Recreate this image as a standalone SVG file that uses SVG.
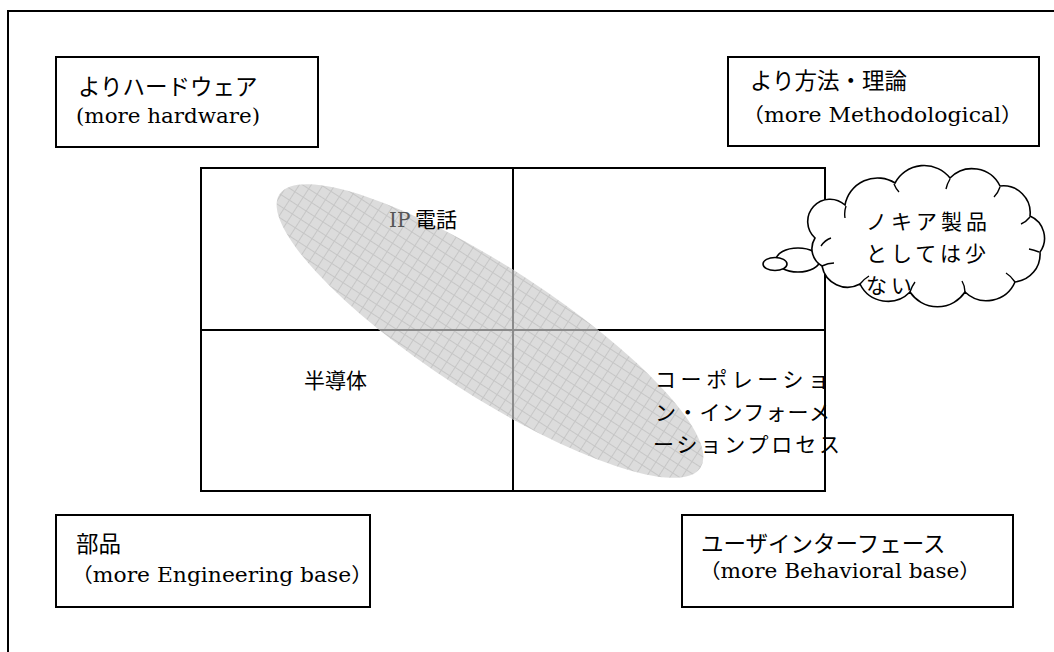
<svg xmlns="http://www.w3.org/2000/svg" width="1054" height="652" viewBox="0 0 1054 652">
<style>
.box{fill:#fff;stroke:#000;stroke-width:2}
.jp{font-family:"Noto Sans CJK JP","Noto Sans",sans-serif;font-size:22.5px;fill:#000}
.jq{font-family:"Noto Sans CJK JP","Noto Sans",sans-serif;font-size:21px;fill:#000}
.lat{font-family:"DejaVu Serif","Liberation Serif","Noto Sans CJK JP",serif;font-size:20px;fill:#000}
.ln{stroke:#000;stroke-width:2;fill:none}
.cl{fill:#fff;stroke:#000;stroke-width:1.6}
</style>
<defs>
<pattern id="grid" patternUnits="userSpaceOnUse" width="10" height="10">
<rect width="10" height="10" fill="#dcdcdc"/>
<path d="M0 0.5H10M0.5 0V10" stroke="#c6c6c6" stroke-width="1"/>
</pattern>
<clipPath id="ellc"><ellipse cx="490" cy="331" rx="251" ry="64" transform="rotate(33 490 331)"/></clipPath>
</defs>
<rect width="1054" height="652" fill="#fff"/>
<g id="frame"><path class="ln" d="M8 652V11H1054"/></g>

<g id="quadrant">
<rect x="201" y="168" width="624" height="323" fill="none" stroke="#000" stroke-width="2"/>
<line class="ln" x1="513" y1="168" x2="513" y2="491"/>
<line class="ln" x1="201" y1="330" x2="825" y2="330"/>
</g>

<g id="ellipse-area">
<ellipse cx="490" cy="331" rx="251" ry="64" transform="rotate(33 490 331)" fill="url(#grid)"/>
<g clip-path="url(#ellc)">
<line x1="513" y1="168" x2="513" y2="491" stroke="#8a8a8a" stroke-width="2"/>
<line x1="201" y1="330" x2="825" y2="330" stroke="#8a8a8a" stroke-width="2"/>
</g>
</g>

<g id="q-texts">
<text x="389" y="227" class="jq"><tspan font-family="DejaVu Serif,Liberation Serif,serif" fill="#555" font-size="20">IP</tspan> 電話</text>
<text x="304" y="388" class="jq">半導体</text>
<text x="655" y="387" class="jq" textLength="174" lengthAdjust="spacing">コーポレーショ</text>
<text x="655" y="420" class="jq" textLength="175" lengthAdjust="spacing">ン・インフォーメ</text>
<text x="653" y="452" class="jq" textLength="187" lengthAdjust="spacing">ーションプロセス</text>
</g>

<g id="box-hardware">
<rect class="box" x="56" y="57" width="262" height="90"/>
<text x="78" y="95" class="jp">よりハードウェア</text>
<text x="76" y="123" class="lat" textLength="184" lengthAdjust="spacingAndGlyphs">(more hardware)</text>
</g>

<g id="box-method">
<rect class="box" x="728" y="57" width="311" height="89"/>
<text x="750" y="89" class="jp">より方法・理論</text>
<text x="742" y="122" class="lat" textLength="281" lengthAdjust="spacingAndGlyphs">（more Methodological）</text>
</g>

<g id="box-engineering">
<rect class="box" x="56" y="515" width="314" height="92"/>
<text x="76" y="552" class="jp">部品</text>
<text x="71" y="582" class="lat" textLength="302" lengthAdjust="spacingAndGlyphs">（more Engineering base）</text>
</g>

<g id="box-ui">
<rect class="box" x="682" y="515" width="331" height="92"/>
<text x="701" y="552" class="jp">ユーザインターフェース</text>
<text x="699" y="578" class="lat" textLength="282" lengthAdjust="spacingAndGlyphs">（more Behavioral base）</text>
</g>

<g id="cloud">
<ellipse class="cl" cx="798" cy="260" rx="22" ry="12"/>
<ellipse class="cl" cx="775" cy="264" rx="12" ry="6.5"/>
<path class="cl" d="M815 238 A21 21 0 0 1 845 205 A33 33 0 0 1 895 183 A33 33 0 0 1 950 178 A31 31 0 0 1 1000 186 A27 27 0 0 1 1030 216 A24 24 0 0 1 1040 252 A28 28 0 0 1 1015 282 A31 31 0 0 1 965 292 A33 33 0 0 1 910 292 A31 31 0 0 1 860 284 A26 26 0 0 1 822 266 A20 20 0 0 1 815 238 Z"/>
<path fill="none" stroke="#000" stroke-width="1.4" d="M821 246 q4 -6 10 -8 M846 206 q-2 6 -1 12 M894 184 q2 5 5 8 M950 179 q-3 5 -4 10 M1000 187 q-2 6 -6 10 M1030 217 q-4 5 -9 7 M1039 252 q-5 -2 -10 -3 M1015 282 q-4 -6 -9 -9 M965 292 q0 -6 -3 -11 M910 292 q2 -6 5 -10 M860 284 q4 -5 9 -8 M822 266 q6 -3 12 -3"/>
<text x="866" y="229" class="jq" letter-spacing="4">ノキア製品</text>
<text x="866" y="261" class="jq" letter-spacing="4">としては少</text>
<text x="866" y="293" class="jq" letter-spacing="4">ない</text>
</g>
</svg>
